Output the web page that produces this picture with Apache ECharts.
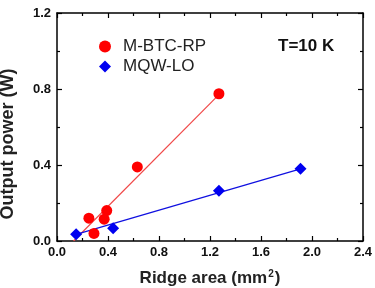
<!DOCTYPE html>
<html>
<head>
<meta charset="utf-8">
<script src="https://cdn.jsdelivr.net/npm/echarts@6/dist/echarts.min.js"></script>
<style>html,body{margin:0;padding:0;background:#fff}#c{width:375px;height:288px}</style>
</head>
<body>
<div id="c"></div>
<script>
// ridge area (mm^2) vs output power (W)
var btcArea = [0.25, 0.29, 0.37, 0.39, 0.63, 1.27];
var btcPower = [0.12, 0.04, 0.115, 0.16, 0.39, 0.775];
var mqwArea = [0.15, 0.44, 1.27, 1.91];
var mqwPower = [0.035, 0.067, 0.265, 0.38];
// linear fits, end points
var btcFitX = [0.13, 1.27];
var btcFitY = [0.0, 0.77];
var mqwFitX = [0.15, 1.91];
var mqwFitY = [0.035, 0.38];
var xTicks = [0, 2.4, 0.4];
var yTicks = [0, 1.2, 0.4];

function pairs(xs, ys) {
  return xs.map(function (x, i) { return [x, ys[i]]; });
}

var font = 'Arial, "Liberation Sans", sans-serif';
var dom = document.getElementById('c');
var myChart = echarts.init(dom);

function axisBase(show) {
  return {
    type: 'value',
    axisLine: { show: true, onZero: false, lineStyle: { color: '#000', width: 1.5 } },
    axisTick: { show: true, inside: true, length: 5, lineStyle: { color: '#000', width: 1.2 } },
    minorTick: { show: true, splitNumber: 2, length: 3, lineStyle: { color: '#000', width: 1.2 } },
    splitLine: { show: false },
    axisLabel: {
      show: show, color: '#111', fontFamily: font, fontWeight: 'bold', fontSize: 13,
      formatter: function (v) { return v.toFixed(1); }
    }
  };
}

var xb = axisBase(true), xt = axisBase(false), yl = axisBase(true), yr = axisBase(false);
[xb, xt].forEach(function (a) { a.min = xTicks[0]; a.max = xTicks[1]; a.interval = xTicks[2]; });
[yl, yr].forEach(function (a) { a.min = yTicks[0]; a.max = yTicks[1]; a.interval = yTicks[2]; });
xb.position = 'bottom';
xb.axisLabel.margin = 5;
xb.name = 'Ridge area (mm{sup|2})';
xb.nameLocation = 'middle';
xb.nameGap = 28;
xb.nameTextStyle = {
  fontFamily: font, fontWeight: 'bold', fontSize: 17, lineHeight: 18, color: '#222',
  rich: { sup: { fontFamily: font, fontWeight: 'bold', fontSize: 10, lineHeight: 10, color: '#222', verticalAlign: 'top', padding: [0, 1, 0, 1] } }
};
xt.position = 'top';
yl.position = 'left';
yl.axisLabel.margin = 6;
yr.position = 'right';

option = {
  animation: false,
  textStyle: { fontFamily: font },
  grid: { left: 57, right: 12, top: 13, bottom: 47, containLabel: false, outerBoundsMode: 'none' },
  legend: {
    orient: 'vertical',
    left: 94,
    top: 33,
    itemGap: 3,
    itemWidth: 12,
    itemHeight: 12,
    data: [
      { name: 'M-BTC-RP', icon: 'circle' },
      { name: 'MQW-LO', icon: 'diamond' }
    ],
    textStyle: { fontFamily: font, fontSize: 17, color: '#222', padding: [0, 0, 0, 7] }
  },
  graphic: [
    {
      type: 'text', x: 278, y: 46,
      style: { text: 'T=10 K', font: 'bold 17px ' + font, fill: '#111', verticalAlign: 'middle' }
    },
    {
      type: 'text', x: 8, y: 144, rotation: Math.PI / 2,
      style: { text: 'Output power (W)', font: 'bold 18px ' + font, fill: '#222', align: 'center', verticalAlign: 'middle' }
    }
  ],
  xAxis: [xb, xt],
  yAxis: [yl, yr],
  series: [
    {
      name: 'M-BTC-RP fit', type: 'line', data: pairs(btcFitX, btcFitY),
      symbol: 'none', lineStyle: { color: '#f04848', width: 1.2 }, z: 1
    },
    {
      name: 'MQW-LO fit', type: 'line', data: pairs(mqwFitX, mqwFitY),
      symbol: 'none', lineStyle: { color: '#1010e0', width: 1.2 }, z: 1
    },
    {
      name: 'M-BTC-RP', type: 'scatter', data: pairs(btcArea, btcPower),
      symbol: 'circle', symbolSize: 11, itemStyle: { color: '#ff0000', opacity: 1 }, z: 3
    },
    {
      name: 'MQW-LO', type: 'scatter', data: pairs(mqwArea, mqwPower),
      symbol: 'diamond', symbolSize: 12, itemStyle: { color: '#0000f0', opacity: 1 }, z: 3
    }
  ]
};

if (option && typeof option === 'object') {
  myChart.setOption(option, true);
}
</script>
</body>
</html>
